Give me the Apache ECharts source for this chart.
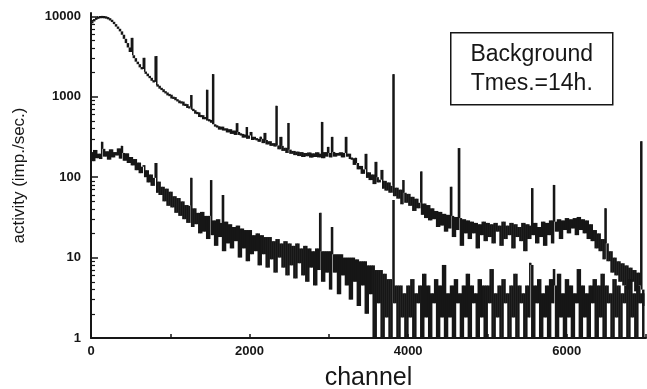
<!DOCTYPE html>
<html>
<head>
<meta charset="utf-8">
<script src="https://cdn.jsdelivr.net/npm/echarts@6/dist/echarts.min.js"></script>
<style>
  html, body { margin: 0; padding: 0; background: #fff; }
  #chart { width: 647px; height: 389px; }
</style>
</head>
<body>
<div id="chart"></div>
<script>
// Gamma background spectra, counts per channel sampled every CHANNEL_STEP channels.
const CHANNEL_STEP = 25;

// Upper spectrum (continuum), channels 0 .. 6975
const upperCounts = [
  8200, 8700, 9200, 9500, 9750, 9800, 9800, 9750, 9600, 9350,
  9000, 8550, 8000, 7450, 7000, 6500, 5900, 5250, 4650, 4100,
  3600, 3280, 3020, 2730, 2540, 2320, 2210, 2040, 1940, 1800,
  1720, 1580, 1530, 1390, 1370, 1260, 1240, 1140, 1130, 1040,
  1060, 950, 990, 905, 900, 830, 870, 775, 810, 725,
  750, 690, 680, 615, 640, 560, 590, 525, 560, 505,
  515, 475, 455, 425, 430, 390, 425, 380, 405, 360,
  395, 345, 380, 335, 365, 335, 345, 310, 340, 300,
  330, 290, 318, 292, 300, 275, 300, 265, 290, 255,
  280, 245, 265, 240, 248, 222, 245, 212, 232, 200,
  220, 195, 212, 188, 208, 183, 205, 178, 200, 182,
  203, 175, 198, 178, 204, 176, 196, 172, 205, 180,
  200, 176, 206, 180, 200, 185, 204, 176, 200, 180,
  196, 168, 172, 142, 150, 125, 138, 110, 125, 98,
  115, 92, 108, 82, 100, 86, 93, 72, 90, 68,
  86, 64, 78, 58, 74, 54, 70, 46, 64, 48,
  62, 44, 57, 38, 54, 41, 48, 34, 47, 31,
  45, 29, 41, 30, 38, 24, 37, 25, 35, 21,
  34, 23, 33, 18, 32, 22, 31, 14, 30, 20,
  29, 17, 28, 20, 27, 13, 26, 19, 28, 16,
  27, 18, 26, 15, 27, 21, 25, 14, 28, 17,
  25, 19, 27, 13, 26, 18, 24, 16, 27, 12,
  26, 17, 25, 19, 27, 15, 24, 18, 28, 14,
  27, 19, 29, 15, 28, 21, 30, 17, 29, 22,
  31, 20, 30, 23, 31, 19, 32, 22, 30, 20,
  29, 17, 26, 16, 22, 13, 20, 12, 17, 9.5,
  15, 9, 12, 6.5, 10, 6, 9, 5, 8.5, 4.5,
  8, 4, 7.5, 5, 7, 3.8, 6.5, 4.5, 4, 2.5
];

// Lower spectrum (shielded), channels 0 .. 6975
const lowerCounts = [
  205, 158, 218, 172, 196, 168, 225, 180, 210, 165,
  222, 176, 205, 186, 228, 170, 200, 160, 198, 150,
  178, 140, 168, 122, 152, 112, 135, 100, 122, 86,
  108, 78, 98, 64, 88, 60, 76, 50, 72, 44,
  66, 42, 58, 36, 55, 33, 50, 30, 45, 27,
  44, 24, 41, 26, 36, 20, 37, 21, 33, 17,
  33, 19, 29, 14, 30, 18, 27, 12, 28, 15,
  26, 13, 24, 16, 25, 10, 23, 13, 22, 9,
  22, 11, 19, 12, 20, 8, 19, 11, 18, 7.5,
  18, 9.5, 16, 6.5, 17, 10, 15, 7.5, 16, 6,
  15, 8, 14, 5.5, 15, 8.5, 13, 6, 14, 5,
  13, 7.5, 12, 4.5, 13, 7, 12, 5, 12, 6.5,
  12, 4, 11, 6.5, 11, 3.5, 11, 6, 10, 4.5,
  10, 3, 10, 5, 9.5, 2.5, 9, 4.5, 9, 2,
  8, 3.5, 8, 1, 7, 2.7, 7, 1, 6.3, 1.8,
  5.4, 1, 5.4, 2.7, 4.5, 1, 4.5, 1.8, 3.6, 1,
  4.5, 1.8, 5.4, 1, 3.6, 2.7, 4.5, 1, 6.3, 1.8,
  4.5, 1, 3.6, 2.7, 5.4, 1, 4.5, 1.8, 8.1, 1,
  3.6, 1.8, 4.5, 1, 5.4, 2.7, 3.6, 1, 4.5, 1.8,
  6.3, 1, 4.5, 2.7, 3.6, 1, 5.4, 1.8, 4.5, 1,
  4.5, 2.7, 7.2, 1, 3.6, 1.8, 4.5, 1, 5.4, 2.7,
  3.6, 1, 4.5, 1.8, 6.3, 1, 4.5, 2.7, 3.6, 1,
  4.5, 1.8, 8.1, 1, 4.5, 2.7, 5.4, 1, 3.6, 1.8,
  4.5, 1, 5.4, 2.7, 4.5, 1, 6.3, 1.8, 3.6, 1,
  5.4, 1.8, 4.5, 1, 3.6, 2.7, 7.2, 1, 4.5, 1.8,
  3.6, 1, 4.5, 2.7, 5.4, 1, 4.5, 1.8, 6.3, 1,
  4.5, 2.7, 3.6, 1, 5.4, 1.8, 4.5, 1, 3.6, 2.7,
  4.5, 1, 5.4, 1.8, 3.6, 1, 4.5, 2.7, 3.6, 1
];

// Photopeaks: [channel, counts at the peak top]
const upperPeaks = [
  [517, 5400], [668, 3050], [820, 3200], [1260, 1050], [1450, 1220],
  [1526, 1910], [1841, 470], [1955, 420], [2018, 365], [2131, 317],
  [2194, 355], [2333, 770], [2396, 317], [2484, 472], [2900, 486],
  [2989, 238], [3039, 317], [3216, 317], [3329, 174], [3468, 195],
  [3594, 155], [3670, 123], [3808, 1910], [3934, 92], [4160, 118],
  [4540, 76], [4640, 230], [5550, 73], [5826, 80], [6480, 41],
  [6936, 280]
];
const lowerPeaks = [
  [126, 275], [378, 245], [668, 141], [820, 150], [1260, 98],
  [1510, 92], [1650, 60], [2890, 36], [3026, 24], [3808, 52],
  [5536, 8.6], [5826, 7.2]
];

// Axis marks
const xLabelValues = [0, 2000, 4000, 6000];
const yDecades = [1, 10, 100, 1000, 10000];
const yMinorSteps = [2, 3, 4, 5, 6, 7, 8, 9];

// Sorted [channel, counts] points of one spectrum, photopeaks merged in
function spectrum(counts, peaks) {
  const pts = counts.map((v, i) => [i * CHANNEL_STEP, v]);
  peaks.forEach(p => pts.push([p[0], p[1]]));
  pts.sort((a, b) => a[0] - b[0]);
  return pts;
}

// Each trace step becomes [channelA, countsA, channelB, countsB]
function steps(pts) {
  const out = [];
  for (let i = 0; i < pts.length - 1; i++) {
    out.push([pts[i][0], pts[i][1], pts[i + 1][0], pts[i + 1][1]]);
  }
  return out;
}

const minorTickValues = [];
yDecades.slice(0, -1).forEach(d => yMinorSteps.forEach(k => minorTickValues.push(d * k)));

const FONT = '"Liberation Sans", Arial, Helvetica, sans-serif';
const INK = '#161616';
const plain = v => String(Math.round(v));

// A dense recorder trace: every step is inked as the vertical span it sweeps
function traceRenderer(minHeight, overlap) {
  return function (params, api) {
    const a = api.coord([api.value(0), api.value(1)]);
    const b = api.coord([api.value(2), api.value(3)]);
    let top = Math.min(a[1], b[1]);
    let bottom = Math.max(a[1], b[1]);
    if (bottom - top < minHeight) {
      const mid = (top + bottom) / 2;
      top = mid - minHeight / 2;
      bottom = mid + minHeight / 2;
    }
    return {
      type: 'rect',
      shape: { x: a[0], y: top, width: Math.max(b[0] - a[0], 1) + overlap, height: bottom - top },
      style: { fill: INK }
    };
  };
}

const chart = echarts.init(document.getElementById('chart'), null, { renderer: 'canvas' });

chart.setOption({
  animation: false,
  backgroundColor: '#ffffff',
  grid: { left: 91, right: 1, top: 13, bottom: 51, outerBoundsMode: 'none', containLabel: false },
  xAxis: {
    type: 'value',
    min: 0,
    max: 7000,
    interval: 1000,
    name: 'channel',
    nameLocation: 'middle',
    nameGap: 28,
    nameTextStyle: { fontFamily: FONT, fontSize: 25, color: INK },
    axisLine: { lineStyle: { color: INK, width: 2 } },
    axisTick: { inside: true, length: 4, lineStyle: { color: INK, width: 1.5 } },
    axisLabel: {
      customValues: xLabelValues,
      formatter: plain,
      fontFamily: FONT, fontWeight: 'bold', fontSize: 13, color: INK, margin: 7
    },
    splitLine: { show: false }
  },
  yAxis: [
    {
      type: 'log',
      logBase: 10,
      min: 1,
      max: 11000,
      name: 'activity (imp./sec.)',
      nameLocation: 'middle',
      nameGap: 63,
      nameTextStyle: { fontFamily: FONT, fontSize: 17, color: INK },
      axisLine: { lineStyle: { color: INK, width: 2 } },
      axisTick: { inside: true, length: 7, customValues: yDecades, lineStyle: { color: INK, width: 1.5 } },
      axisLabel: {
        customValues: yDecades,
        formatter: plain,
        fontFamily: FONT, fontWeight: 'bold', fontSize: 13, color: INK, margin: 10
      },
      splitLine: { show: false }
    },
    {
      type: 'log',
      logBase: 10,
      min: 1,
      max: 11000,
      position: 'left',
      axisLine: { show: false },
      axisTick: { inside: true, length: 4, customValues: minorTickValues, lineStyle: { color: INK, width: 1.2 } },
      axisLabel: { show: false },
      splitLine: { show: false }
    }
  ],
  graphic: [
    {
      type: 'group',
      left: 450,
      top: 32,
      children: [
        {
          type: 'rect',
          shape: { x: 0, y: 0, width: 162, height: 72 },
          style: { fill: '#fff', stroke: INK, lineWidth: 1.5 }
        },
        {
          type: 'text',
          x: 81, y: 22,
          style: { text: 'Background', font: '23px ' + FONT, fill: INK, align: 'center', verticalAlign: 'middle' }
        },
        {
          type: 'text',
          x: 81, y: 51,
          style: { text: 'Tmes.=14h.', font: '23px ' + FONT, fill: INK, align: 'center', verticalAlign: 'middle' }
        }
      ]
    }
  ],
  series: [
    {
      name: 'upper',
      type: 'custom',
      yAxisIndex: 0,
      clip: true,
      data: steps(spectrum(upperCounts, upperPeaks)),
      encode: { x: [0, 2], y: [1, 3] },
      renderItem: traceRenderer(2.3, 0.5)
    },
    {
      name: 'lower',
      type: 'custom',
      yAxisIndex: 0,
      clip: true,
      data: steps(spectrum(lowerCounts, lowerPeaks)),
      encode: { x: [0, 2], y: [1, 3] },
      renderItem: traceRenderer(1.6, 0.5)
    }
  ]
});
</script>
</body>
</html>
